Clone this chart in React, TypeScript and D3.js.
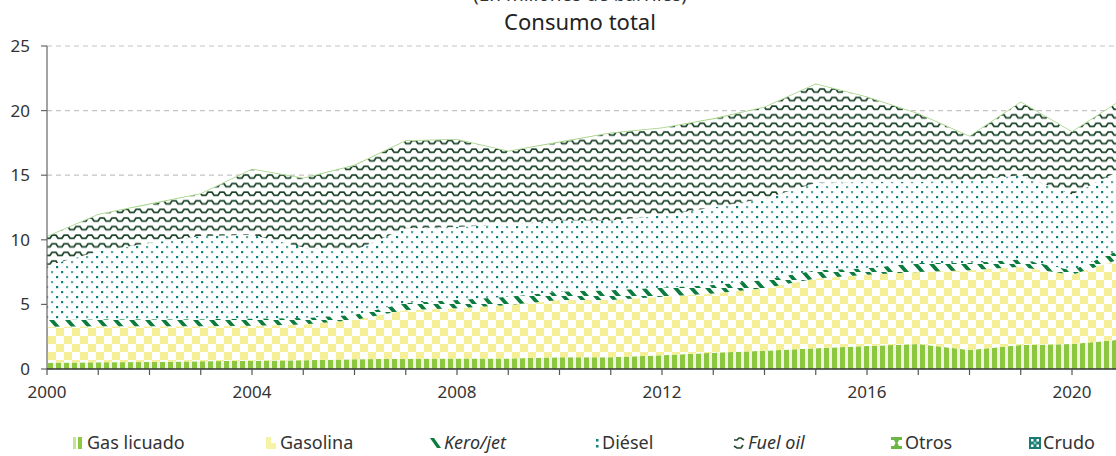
import React from "react";
import * as d3 from "d3";

const years = [2000, 2001, 2002, 2003, 2004, 2005, 2006, 2007, 2008, 2009, 2010, 2011, 2012, 2013, 2014, 2015, 2016, 2017, 2018, 2019, 2020, 2021];
const gasLicuado = [0.49, 0.52, 0.55, 0.6, 0.64, 0.67, 0.75, 0.8, 0.82, 0.82, 0.9, 0.9, 1.06, 1.26, 1.42, 1.6, 1.78, 1.93, 1.47, 1.86, 1.93, 2.29];
const gasolina = [2.78, 2.78, 2.75, 2.7, 2.71, 2.78, 3.05, 3.77, 3.88, 4.13, 4.45, 4.45, 4.54, 4.59, 4.83, 5.4, 5.52, 5.57, 6.18, 6.04, 5.37, 6.29];
const keroJet = [0.53, 0.55, 0.55, 0.55, 0.55, 0.5, 0.4, 0.53, 0.65, 0.65, 0.65, 0.75, 0.7, 0.65, 0.65, 0.65, 0.5, 0.7, 0.55, 0.6, 0.35, 0.76];
const diesel = [4.2, 5.25, 5.9, 6.45, 6.5, 5.45, 5.0, 5.8, 5.65, 5.6, 5.5, 5.4, 5.6, 6.0, 6.3, 6.75, 6.7, 6.3, 6.4, 6.5, 5.85, 6.14];
const fuelOil = [2.24, 2.84, 2.99, 3.24, 5.04, 5.34, 6.54, 6.74, 6.74, 5.64, 6.04, 6.74, 6.74, 6.84, 7.04, 7.64, 6.54, 5.24, 3.4, 5.64, 4.84, 5.42];
const otros = [0.06, 0.06, 0.06, 0.06, 0.06, 0.06, 0.06, 0.06, 0.06, 0.06, 0.06, 0.06, 0.06, 0.06, 0.06, 0.06, 0.06, 0.06, 0.06, 0.06, 0.06, 0.06];
const crudo = [0, 0, 0, 0, 0, 0, 0, 0, 0, 0, 0, 0, 0, 0, 0, 0, 0, 0, 0, 0, 0, 0];

const seriesNames = ["Gas licuado", "Gasolina", "Kero/jet", "Diésel", "Fuel oil", "Otros", "Crudo"];
const seriesKeys = ["gas", "gasolina", "kero", "diesel", "fuel", "otros", "crudo"];
const yTicks = [0, 5, 10, 15, 20, 25];
const xLabelYears = [2000, 2004, 2008, 2012, 2016, 2020];
const title = "Consumo total";
const subtitle = "(En millones de barriles)";

const W = 1116;
const H = 456;
const FONT = "'Noto Sans', 'Open Sans', sans-serif";

export default function App() {
  const x = d3.scaleLinear().domain([2000, 2021]).range([47, 47 + 21 * 51.25]);
  const y = d3.scaleLinear().domain([0, 25]).range([369, 46]);

  const table = years.map((yr, i) => ({
    year: yr,
    gas: gasLicuado[i],
    gasolina: gasolina[i],
    kero: keroJet[i],
    diesel: diesel[i],
    fuel: fuelOil[i],
    otros: otros[i],
    crudo: crudo[i],
  }));
  const stack = d3.stack<any>().keys(seriesKeys);
  const layers = stack(table);
  const area = d3
    .area<any>()
    .x((d) => x(d.data.year))
    .y0((d) => y(d[0]))
    .y1((d) => y(d[1]))
    .curve(d3.curveLinear);

  const fills = ["url(#pGas)", "url(#pGasolina)", "url(#pKero)", "url(#pDiesel)", "url(#pFuel)", "#9ed27c", "url(#pCrudo)"];

  const minorYears = d3.range(2000, 2022);

  const legendItems = [
    { name: seriesNames[0], tx: 87, italic: false },
    { name: seriesNames[1], tx: 280, italic: false },
    { name: seriesNames[2], tx: 444, italic: true },
    { name: seriesNames[3], tx: 602, italic: false },
    { name: seriesNames[4], tx: 748, italic: true },
    { name: seriesNames[5], tx: 905, italic: false },
    { name: seriesNames[6], tx: 1043, italic: false },
  ];
  const ly = 443;

  const icon = (i: number, tx: number) => {
    const ix = tx - 14;
    const top = ly - 6;
    switch (i) {
      case 0:
        return (
          <g>
            <rect x={ix} y={top} width={3} height={12} fill="#c6e29b" />
            <rect x={ix + 5} y={top} width={4} height={12} fill="#8dc63f" />
          </g>
        );
      case 1:
        return (
          <g>
            <rect x={ix} y={top} width={10} height={12} fill="#f7f3a6" />
            <rect x={ix + 5} y={top} width={5} height={6} fill="#ffffff" />
          </g>
        );
      case 2:
        return <polygon points={`${ix},${top + 1} ${ix + 4},${top + 1} ${ix + 11},${top + 11} ${ix + 7},${top + 11}`} fill="#0b7b3e" />;
      case 3:
        return (
          <g>
            <rect x={ix + 8} y={top + 2} width={2.5} height={2.5} fill="#0a8080" />
            <rect x={ix + 8} y={top + 8} width={2.5} height={2.5} fill="#0a8080" />
          </g>
        );
      case 4:
        return (
          <g fill="none" stroke="#1f4a2c" strokeWidth={1.6}>
            <path d={`M${ix},${top + 3} L${ix + 3},${top + 3} L${ix + 5},${top + 1} L${ix + 7},${top + 1} L${ix + 10},${top + 3}`} />
            <path d={`M${ix},${top + 9} L${ix + 3},${top + 11} L${ix + 7},${top + 11} L${ix + 9},${top + 8}`} />
          </g>
        );
      case 5:
        return (
          <g fill="#6cb644">
            <rect x={ix} y={top} width={11} height={3} />
            <rect x={ix} y={top + 9} width={11} height={3} />
            <polygon points={`${ix + 3},${top + 3} ${ix + 8},${top + 3} ${ix + 6.5},${top + 6} ${ix + 8},${top + 9} ${ix + 3},${top + 9} ${ix + 4.5},${top + 6}`} />
          </g>
        );
      default:
        return (
          <g>
            <rect x={ix} y={top} width={12} height={12} fill="#1a7c74" />
            <rect x={ix + 2} y={top + 2} width={2.5} height={2.5} fill="#fff" />
            <rect x={ix + 7.5} y={top + 2} width={2.5} height={2.5} fill="#fff" />
            <rect x={ix + 2} y={top + 7.5} width={2.5} height={2.5} fill="#fff" />
            <rect x={ix + 7.5} y={top + 7.5} width={2.5} height={2.5} fill="#fff" />
            <rect x={ix + 4.75} y={top + 4.75} width={2.5} height={2.5} fill="#8fc7c0" />
          </g>
        );
    }
  };

  return (
    <svg width={W} height={H} style={{ position: "absolute", left: 0, top: 0, background: "#fff" }} fontFamily={FONT}>
      <defs>
        <pattern id="pGas" patternUnits="userSpaceOnUse" width={8} height={10}>
          <rect width={8} height={10} fill="#eef3e4" />
          <rect x={0} width={5} height={10} fill="#8dc63f" />
        </pattern>
        <pattern id="pGasolina" patternUnits="userSpaceOnUse" width={16} height={16}>
          <rect width={16} height={16} fill="#ffffff" />
          <rect x={0} y={0} width={8} height={8} fill="#f5f098" />
          <rect x={8} y={8} width={8} height={8} fill="#f5f098" />
        </pattern>
        <pattern id="pKero" patternUnits="userSpaceOnUse" width={16} height={8}>
          <rect width={16} height={8} fill="#ffffff" />
          <polygon points="1,0 6,0 13,8 8,8" fill="#0b7b3e" />
        </pattern>
        <pattern id="pDiesel" patternUnits="userSpaceOnUse" width={20} height={10}>
          <rect width={20} height={10} fill="#ffffff" />
          <rect x={1} y={1} width={2.2} height={2.2} fill="#0a8080" />
          <rect x={11} y={1} width={2.2} height={2.2} fill="#5fa8a8" />
          <rect x={6} y={6} width={2.2} height={2.2} fill="#5fa8a8" />
          <rect x={16} y={6} width={2.2} height={2.2} fill="#0a8080" />
        </pattern>
        <pattern id="pFuel" patternUnits="userSpaceOnUse" width={12} height={8.6}>
          <rect width={12} height={8.6} fill="#ffffff" />
          <path d="M0,6 H2 L4,3 H8 L10,6 H12" fill="none" stroke="#1c4429" strokeWidth={1.7} />
        </pattern>
        <pattern id="pCrudo" patternUnits="userSpaceOnUse" width={6} height={6}>
          <rect width={6} height={6} fill="#1a7c74" />
          <rect x={1} y={1} width={2} height={2} fill="#ffffff" />
        </pattern>
      </defs>

      <text x={580} y={1} textAnchor="middle" fontSize={19} fill="#333">{subtitle}</text>
      <text x={580} y={30} textAnchor="middle" fontSize={22} fill="#222">{title}</text>

      {yTicks.filter((t) => t > 0).map((t) => (
        <line key={t} x1={47} x2={W} y1={y(t)} y2={y(t)} stroke="#c4c4c4" strokeWidth={1.2} strokeDasharray="5,4" />
      ))}

      {layers.map((layer, i) => (
        <path key={seriesKeys[i]} d={area(layer as any) || ""} fill={fills[i]} />
      ))}

      <line x1={47} x2={47} y1={y(25)} y2={y(0)} stroke="#666" strokeWidth={1.2} />
      {yTicks.map((t) => (
        <g key={t}>
          <line x1={41} x2={47} y1={y(t)} y2={y(t)} stroke="#666" strokeWidth={1.2} />
          <text x={30} y={y(t)} dy="0.35em" textAnchor="end" fontSize={17} fill="#333">{t}</text>
        </g>
      ))}

      <line x1={47} x2={W} y1={369} y2={369} stroke="#333" strokeWidth={1.5} />
      {minorYears.map((yr) => (
        <line key={yr} x1={x(yr)} x2={x(yr)} y1={369} y2={375} stroke="#555" strokeWidth={1.2} />
      ))}
      {xLabelYears.map((yr) => (
        <text key={yr} x={x(yr)} y={398} textAnchor="middle" fontSize={17} fill="#333">{yr}</text>
      ))}

      {legendItems.map((it, i) => (
        <g key={it.name}>
          {icon(i, it.tx)}
          <text x={it.tx} y={ly} dy="0.35em" fontSize={18} fill="#333" fontStyle={it.italic ? "italic" : "normal"}>{it.name}</text>
        </g>
      ))}
    </svg>
  );
}
